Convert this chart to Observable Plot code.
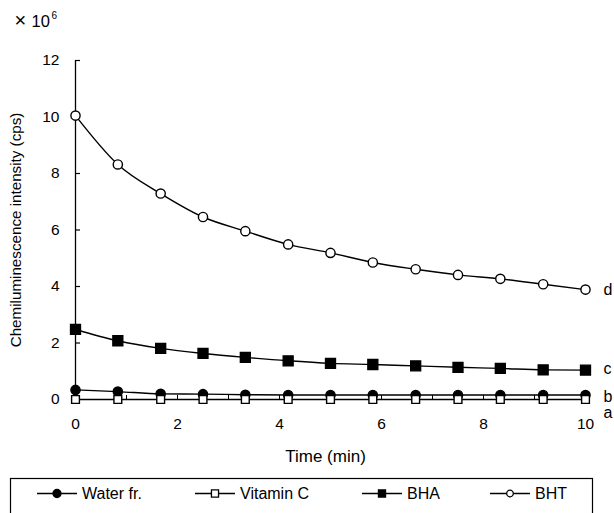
<!DOCTYPE html>
<html>
<head>
<meta charset="utf-8">
<script src="https://cdn.jsdelivr.net/npm/d3@7"></script>
<script src="https://cdn.jsdelivr.net/npm/@observablehq/plot@0.6"></script>
<style>
  html, body { margin: 0; padding: 0; background: #fff; }
  body { font-family: "Liberation Sans", Arial, sans-serif; }
  #wrap { position: relative; width: 614px; height: 513px; overflow: hidden; }
  #legend { position: absolute; left: 0; top: 470px; }
</style>
</head>
<body>
<div id="wrap"><div id="chart"></div><div id="legend"></div></div>
<script>
// ---- data ----
const time = [0, 0.83, 1.67, 2.5, 3.33, 4.17, 5, 5.83, 6.67, 7.5, 8.33, 9.17, 10];
const waterFr  = [0.34, 0.28, 0.2, 0.19, 0.17, 0.16, 0.16, 0.16, 0.16, 0.16, 0.16, 0.16, 0.16];
const vitaminC = [0, 0, 0, 0, 0, 0, 0, 0, 0, 0, 0, 0, 0];
const bha      = [2.48, 2.08, 1.81, 1.63, 1.49, 1.37, 1.28, 1.24, 1.19, 1.14, 1.1, 1.05, 1.04];
const bht      = [10.05, 8.32, 7.29, 6.46, 5.96, 5.49, 5.19, 4.85, 4.61, 4.41, 4.27, 4.08, 3.89];
const seriesNames = ["Water fr.", "Vitamin C", "BHA", "BHT"];
const curveLabels = ["b", "a", "c", "d"];
const xTickLabels = [0, 2, 4, 6, 8, 10];
const xMinorTicks = [1, 2, 3, 4, 5, 6, 7, 8, 9, 10];
const yTickLabels = [0, 2, 4, 6, 8, 10, 12];
const yLabel = "Chemiluminescence intensity (cps)";
const xLabel = "Time (min)";
const scaleNote = ["×", "10", "6"];

// ---- build table ----
const valuesBySeries = [waterFr, vitaminC, bha, bht];
const rows = [];
seriesNames.forEach((name, s) => {
  valuesBySeries[s].forEach((v, i) => rows.push({series: name, t: time[i], v}));
});
const ends = seriesNames.map((name, s) => ({
  series: name, label: curveLabels[s], t: time[time.length - 1],
  v: valuesBySeries[s][valuesBySeries[s].length - 1]
}));

// marker styles (code, not data)
const style = {
  "Water fr.": {symbol: "circle", fill: "black", r: 4.6, lr: 4},
  "Vitamin C": {symbol: "square", fill: "white", r: 4.4, lr: 4},
  "BHA":       {symbol: "square", fill: "black", r: 5.6, lr: 4},
  "BHT":       {symbol: "circle", fill: "white", r: 4.6, lr: 3.3}
};
const labelDy = {a: 13.5, b: 1.5, c: -1, d: 0.5};

const font = "Liberation Sans, Arial, sans-serif";

const dotMarks = seriesNames.map(name => Plot.dot(rows.filter(d => d.series === name), {
  x: "t", y: "v", symbol: style[name].symbol, r: style[name].r,
  fill: style[name].fill, stroke: "black", strokeWidth: 1.4
}));

const endLabelMarks = ends.map(e => Plot.text([e], {
  x: "t", y: "v", text: "label", dx: 18, dy: labelDy[e.label],
  textAnchor: "start", lineAnchor: "middle", fontSize: 16, fill: "black"
}));

const chart = Plot.plot({
  width: 614, height: 470,
  marginLeft: 75, marginRight: 29, marginTop: 60, marginBottom: 71,
  style: {fontFamily: font, fontSize: "15.5px", color: "black", background: "white", overflow: "visible"},
  x: {domain: [0, 10]},
  y: {domain: [0, 12]},
  marks: [
    Plot.axisX(xTickLabels, {tickSize: 0, tickPadding: 18, label: null, fontSize: 15.5}),
    Plot.axisY(yTickLabels, {tickSize: 0, tickPadding: 16, label: null, fontSize: 15.5}),
    Plot.ruleX([0], {stroke: "black", strokeWidth: 1.3}),
    Plot.ruleY([0], {stroke: "black", strokeWidth: 1.2}),
    Plot.tickY(yTickLabels.filter(d => d > 0), {y: d => d, insetRight: 505, stroke: "black", strokeWidth: 1.2}),
    Plot.tickX(xMinorTicks, {x: d => d, insetTop: 335, stroke: "black", strokeWidth: 1}),
    Plot.line(rows, {x: "t", y: "v", z: "series", stroke: "black", strokeWidth: 1.4, curve: "monotone-x"}),
    ...dotMarks,
    ...endLabelMarks,
    Plot.text([yLabel], {text: d => d, frameAnchor: "left", dx: -59.5, rotate: -90, textAnchor: "middle", lineAnchor: "middle", fontSize: 15.2, fill: "black"}),
    Plot.text([xLabel], {text: d => d, frameAnchor: "bottom", dx: -5, dy: 50.5, textAnchor: "middle", lineAnchor: "top", fontSize: 17, fill: "black"}),
    Plot.text([scaleNote[0]], {text: d => d, frameAnchor: "top-left", dx: -61, dy: -39.5, textAnchor: "start", lineAnchor: "middle", fontSize: 20, fill: "black"}),
    Plot.text([scaleNote[1]], {text: d => d, frameAnchor: "top-left", dx: -44, dy: -39, textAnchor: "start", lineAnchor: "middle", fontSize: 16.5, fill: "black"}),
    Plot.text([scaleNote[2]], {text: d => d, frameAnchor: "top-left", dx: -24, dy: -44.7, textAnchor: "start", lineAnchor: "middle", fontSize: 10, fill: "black"})
  ]
});
document.getElementById("chart").appendChild(chart);

// ---- legend ----
const lg = d3.select("#legend").append("svg")
  .attr("width", 614).attr("height", 43)
  .style("font-family", font);
lg.append("rect").attr("x", 10.5).attr("y", 8.5).attr("width", 582).attr("height", 60)
  .attr("fill", "white").attr("stroke", "black").attr("stroke-width", 1.2);
const lineCenters = [57, 215, 382, 510];
seriesNames.forEach((name, i) => {
  const cx = lineCenters[i], cy = 23.5;
  lg.append("line").attr("x1", cx - 20).attr("x2", cx + 20).attr("y1", cy).attr("y2", cy)
    .attr("stroke", "black").attr("stroke-width", 1.6);
  const sym = style[name].symbol === "circle" ? d3.symbolCircle : d3.symbolSquare;
  const r = style[name].lr;
  lg.append("path").attr("d", d3.symbol(sym, Math.PI * r * r)())
    .attr("transform", `translate(${cx},${cy})`)
    .attr("fill", style[name].fill).attr("stroke", "black").attr("stroke-width", 1.3);
  lg.append("text").attr("x", cx + 25).attr("y", cy).attr("dy", "0.35em")
    .attr("font-size", 16).attr("fill", "black").text(name);
});
</script>
</body>
</html>
